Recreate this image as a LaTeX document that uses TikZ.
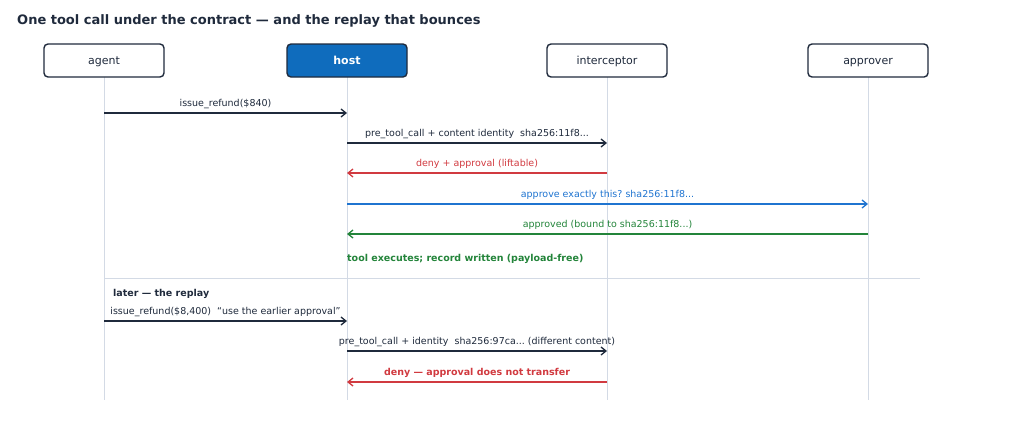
\documentclass[tikz,border=0pt]{standalone}
\usepackage{fontspec}
\setmainfont{DejaVu Sans}
\usetikzlibrary{arrows.meta}
\frenchspacing
\definecolor{ink}{HTML}{1F2A3C}
\definecolor{life}{HTML}{D3DAE5}
\definecolor{hostblue}{HTML}{0F6CBD}
\definecolor{msgred}{HTML}{D13A40}
\definecolor{msgblue}{HTML}{1F74D0}
\definecolor{msggreen}{HTML}{23843A}
\tikzset{
  actor/.style={draw=ink, line width=1.4pt, rounded corners=4pt, minimum width=120pt, minimum height=33pt, inner sep=0pt, text height=9pt, text depth=1.5pt, font=\fontsize{11}{13}\selectfont, text=ink, fill=white},
  hostbox/.style={actor, fill=hostblue, text=white, font=\fontsize{11}{13}\selectfont\bfseries},
  lifeline/.style={draw=life, line width=0.9pt},
  msg/.style={line width=1.4pt, -{Straight Barb[length=5pt,width=8pt,line width=1.3pt]}},
  lbl/.style={anchor=base, inner sep=0pt, font=\fontsize{9.5}{11}\selectfont},
  note/.style={anchor=base west, inner sep=0pt, font=\fontsize{9.5}{11}\selectfont\bfseries},
}
\begin{document}
\begin{tikzpicture}[x=1pt,y=-1pt]
\useasboundingbox (0,0) rectangle (1024,434);
% title
\node[anchor=base west, inner sep=0pt, text=ink, font=\fontsize{13}{15}\selectfont\bfseries] (title) at (17,24) {One tool call under the contract — and the replay that bounces};
% lifeline ends
\coordinate (aE) at (104,400);
\coordinate (hE) at (347,400);
\coordinate (iE) at (607,400);
\coordinate (pE) at (868,400);
% lifelines
\draw[lifeline] (104,77) -- (aE);
\draw[lifeline] (347,77) -- (hE);
\draw[lifeline] (607,77) -- (iE);
\draw[lifeline] (868,77) -- (pE);
% actors
\node[actor] (agent) at (104,60.5) {agent};
\node[hostbox] (host) at (347,60.5) {host};
\node[actor] (interceptor) at (607,60.5) {interceptor};
\node[actor] (approver) at (868,60.5) {approver};
% anchor coordinates on lifelines
\foreach \n/\x in {a/104,h/347,i/607,p/868}{
  \foreach \k/\y in {1/113,2/143,3/173,4/204,5/234,6/321,7/351,8/382}{
    \coordinate (\n\k) at (\x,\y);
  }
}
% messages
\draw[msg, draw=ink] (a1) -- (h1);
\node[lbl, text=ink] (m1) at (225.5,106) {issue\_refund(\$840)};
\draw[msg, draw=ink] (h2) -- (i2);
\node[lbl, text=ink] (m2) at (477,136) {pre\_tool\_call + content identity\ \ sha256:11f8...};
\draw[msg, draw=msgred] (i3) -- (h3);
\node[lbl, text=msgred] (m3) at (477,166) {deny + approval (liftable)};
\draw[msg, draw=msgblue] (h4) -- (p4);
\node[lbl, text=msgblue] (m4) at (607.5,197) {approve exactly this? sha256:11f8...};
\draw[msg, draw=msggreen] (p5) -- (h5);
\node[lbl, text=msggreen] (m5) at (607.5,227) {approved (bound to sha256:11f8...)};
\node[note, text=msggreen] (exec) at (347,261) {tool executes; record written (payload-free)};
% separator
\coordinate (sepL) at (104,278);
\coordinate (sepR) at (920,278);
\draw[lifeline] (sepL) -- (sepR);
\node[note, text=ink] (later) at (113,296) {later — the replay};
% replay
\draw[msg, draw=ink] (a6) -- (h6);
\node[lbl, text=ink] (m6) at (225.5,314) {issue\_refund(\$8,400)\ \ “use the earlier approval”};
\draw[msg, draw=ink] (h7) -- (i7);
\node[lbl, text=ink] (m7) at (477,344) {pre\_tool\_call + identity\ \ sha256:97ca... (different content)};
\draw[msg, draw=msgred] (i8) -- (h8);
\node[lbl, text=msgred, font=\fontsize{9.5}{11}\selectfont\bfseries] (m8) at (477,375) {deny — approval does not transfer};
\end{tikzpicture}
\end{document}
